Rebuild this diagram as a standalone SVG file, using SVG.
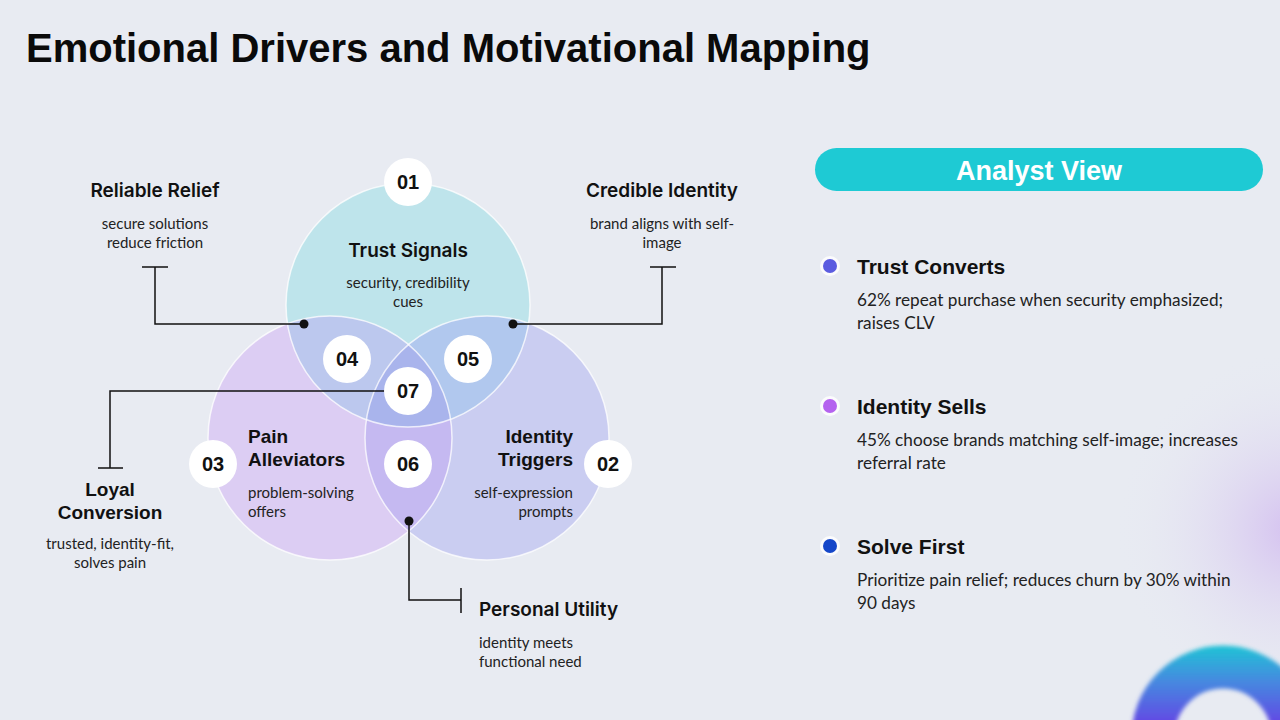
<svg xmlns="http://www.w3.org/2000/svg" width="1280" height="720" viewBox="0 0 1280 720">
<defs>
<style>
.title{font-family:"Liberation Sans",Arial,sans-serif;font-weight:700;font-size:40px;fill:#0a0a0a}
.hd{font-family:Inter,"Liberation Sans",sans-serif;font-weight:600;font-size:19px;fill:#111}
.hdb{font-family:"Liberation Sans",Arial,sans-serif;font-weight:700;font-size:19px;fill:#111}
.body{font-family:Lato,"Liberation Sans",sans-serif;font-size:15px;fill:#222}
.num{font-family:"Liberation Sans",Arial,sans-serif;font-weight:700;font-size:20px;fill:#111;text-anchor:middle}
.rh{font-family:"Liberation Sans",Arial,sans-serif;font-weight:700;font-size:21px;fill:#111}
.rb{font-family:Lato,"Liberation Sans",sans-serif;font-size:17.2px;fill:#222}
.badge{fill:#fff}
.conn{fill:none;stroke:#111;stroke-width:1.5}
.dot{fill:#111}
.outline{fill:none;stroke:#fff;stroke-opacity:0.75;stroke-width:1.5}
</style>
<clipPath id="cTop"><circle cx="408" cy="305" r="122"/></clipPath>
<clipPath id="cLeft"><circle cx="330" cy="438" r="122"/></clipPath>
<clipPath id="cRight"><circle cx="487" cy="438" r="122"/></clipPath>
<radialGradient id="glow" cx="1295" cy="530" r="180" gradientUnits="userSpaceOnUse">
<stop offset="0" stop-color="#d4c0f0" stop-opacity="1"/>
<stop offset="1" stop-color="#e8ebf2" stop-opacity="0"/>
</radialGradient>
<linearGradient id="ring" x1="0" y1="648" x2="0" y2="725" gradientUnits="userSpaceOnUse">
<stop offset="0" stop-color="#22c0d6"/>
<stop offset="0.45" stop-color="#4787e0"/>
<stop offset="1" stop-color="#6446e4"/>
</linearGradient>
<filter id="soft" x="-20%" y="-20%" width="140%" height="140%"><feGaussianBlur stdDeviation="2"/></filter>
</defs>
<rect width="1280" height="720" fill="#e8ebf2"/>
<rect x="1000" y="300" width="280" height="420" fill="url(#glow)"/>
<circle cx="1223" cy="737" r="70" fill="none" stroke="url(#ring)" stroke-width="43" filter="url(#soft)"/>

<text class="title" x="26" y="62">Emotional Drivers and Motivational Mapping</text>

<g id="venn">
<circle cx="408" cy="305" r="122" fill="#bee4eb"/>
<circle cx="330" cy="438" r="122" fill="#dccdf3"/>
<circle cx="487" cy="438" r="122" fill="#cacdf1"/>
<g clip-path="url(#cTop)"><circle cx="330" cy="438" r="122" fill="#bcc8ee"/></g>
<g clip-path="url(#cTop)"><circle cx="487" cy="438" r="122" fill="#b1c8ee"/></g>
<g clip-path="url(#cLeft)"><circle cx="487" cy="438" r="122" fill="#c5b9f1"/></g>
<g clip-path="url(#cLeft)"><g clip-path="url(#cTop)"><circle cx="487" cy="438" r="122" fill="#a9b4ec"/></g></g>
<circle class="outline" cx="408" cy="305" r="122"/>
<circle class="outline" cx="330" cy="438" r="122"/>
<circle class="outline" cx="487" cy="438" r="122"/>
</g>

<g id="connectors">
<path class="conn" d="M304 324 H155 V267 M142 267 H168"/>
<path class="conn" d="M513 324 H662 V267 M650 267 H676"/>
<path class="conn" d="M385 391 H110 V468 M98 468 H123"/>
<path class="conn" d="M409 521 V600 H461 M461 588 V613"/>
<circle class="dot" cx="304" cy="324" r="4.5"/>
<circle class="dot" cx="513" cy="324" r="4.5"/>
<circle class="dot" cx="409" cy="521" r="4.5"/>
</g>

<g id="trust-signals">
<circle class="badge" cx="408" cy="182" r="24"/>
<text class="num" x="408" y="189">01</text>
<text class="hd" x="408" y="257" text-anchor="middle">Trust Signals</text>
<text class="body" x="408" y="288" text-anchor="middle">security, credibility</text>
<text class="body" x="408" y="307" text-anchor="middle">cues</text>
</g>

<g id="identity-triggers">
<circle class="badge" cx="608" cy="464" r="24"/>
<text class="num" x="608" y="471">02</text>
<text class="hdb" x="573" y="443" text-anchor="end">Identity</text>
<text class="hdb" x="573" y="466" text-anchor="end">Triggers</text>
<text class="body" x="573" y="498" text-anchor="end">self-expression</text>
<text class="body" x="573" y="517" text-anchor="end">prompts</text>
</g>

<g id="pain-alleviators">
<circle class="badge" cx="213" cy="464" r="24"/>
<text class="num" x="213" y="471">03</text>
<text class="hdb" x="248" y="443">Pain</text>
<text class="hdb" x="248" y="466">Alleviators</text>
<text class="body" x="248" y="498">problem-solving</text>
<text class="body" x="248" y="517">offers</text>
</g>

<g id="n04"><circle class="badge" cx="347" cy="359" r="24"/><text class="num" x="347" y="366">04</text></g>
<g id="n05"><circle class="badge" cx="468" cy="359" r="24"/><text class="num" x="468" y="366">05</text></g>
<g id="n06"><circle class="badge" cx="408" cy="464" r="24"/><text class="num" x="408" y="471">06</text></g>
<g id="n07"><circle class="badge" cx="408" cy="391" r="24"/><text class="num" x="408" y="398">07</text></g>

<g id="reliable-relief">
<text class="hd" x="155" y="197" text-anchor="middle">Reliable Relief</text>
<text class="body" x="155" y="229" text-anchor="middle">secure solutions</text>
<text class="body" x="155" y="248" text-anchor="middle">reduce friction</text>
</g>

<g id="credible-identity">
<text class="hd" x="662" y="197" text-anchor="middle">Credible Identity</text>
<text class="body" x="662" y="229" text-anchor="middle">brand  aligns with self-</text>
<text class="body" x="662" y="248" text-anchor="middle">image</text>
</g>

<g id="loyal-conversion">
<text class="hdb" x="110" y="496" text-anchor="middle">Loyal</text>
<text class="hdb" x="110" y="519" text-anchor="middle">Conversion</text>
<text class="body" x="110" y="549" text-anchor="middle">trusted, identity-fit,</text>
<text class="body" x="110" y="568" text-anchor="middle">solves pain</text>
</g>

<g id="personal-utility">
<text class="hd" x="479" y="616" font-size="18.6">Personal Utility</text>
<text class="body" x="479" y="648">identity meets</text>
<text class="body" x="479" y="667">functional need</text>
</g>

<g id="analyst-view">
<rect x="815" y="148" width="448" height="43" rx="21.5" fill="#1ecad4"/>
<text x="1039" y="180" text-anchor="middle" font-family="Liberation Sans, Arial, sans-serif" font-weight="700" font-size="27" fill="#fff">Analyst View</text>
</g>

<g id="trust-converts">
<circle cx="830" cy="266" r="10" fill="#fff" fill-opacity="0.8"/>
<circle cx="830" cy="266" r="7" fill="#5b5ce0"/>
<text class="rh" x="857" y="274">Trust Converts</text>
<text class="rb" x="857" y="306">62% repeat purchase when security emphasized;</text>
<text class="rb" x="857" y="329">raises CLV</text>
</g>

<g id="identity-sells">
<circle cx="830" cy="406" r="10" fill="#fff" fill-opacity="0.8"/>
<circle cx="830" cy="406" r="7" fill="#b462ef"/>
<text class="rh" x="857" y="414">Identity Sells</text>
<text class="rb" x="857" y="446">45% choose brands matching self-image; increases</text>
<text class="rb" x="857" y="469">referral rate</text>
</g>

<g id="solve-first">
<circle cx="830" cy="546" r="10" fill="#fff" fill-opacity="0.8"/>
<circle cx="830" cy="546" r="7" fill="#1547c9"/>
<text class="rh" x="857" y="554">Solve First</text>
<text class="rb" x="857" y="586">Prioritize pain relief; reduces churn by 30% within</text>
<text class="rb" x="857" y="609">90 days</text>
</g>
</svg>
